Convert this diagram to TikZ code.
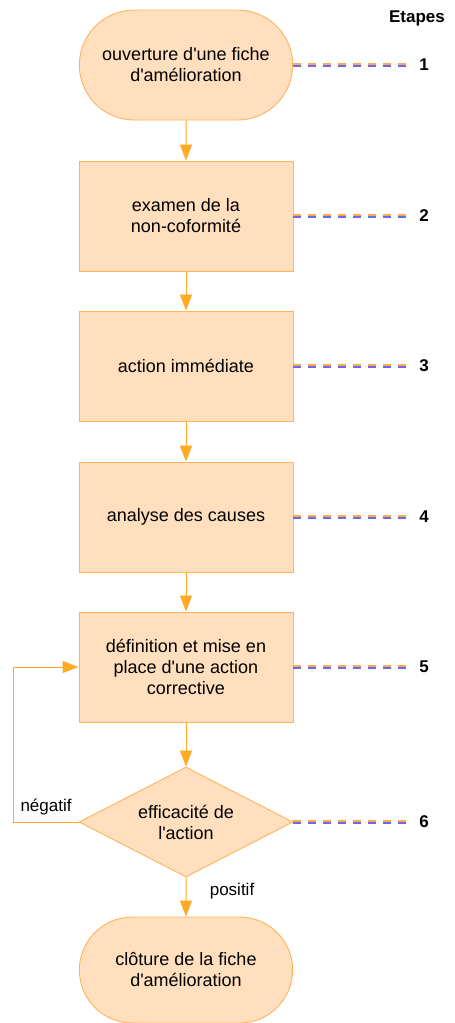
\documentclass[tikz,border=0pt]{standalone}
\usepackage{fontspec}
\setmainfont[Ligatures=TeXOff]{Liberation Sans}
\usetikzlibrary{shapes.misc,shapes.geometric,arrows.meta}

\definecolor{peach}{HTML}{FFDFBE}
\definecolor{boxline}{HTML}{FFB35C}
\definecolor{flowline}{HTML}{FFAA22}
\definecolor{linkblue}{HTML}{6A6AF0}
\definecolor{linkorange}{HTML}{FFA850}

\tikzset{
  stepbox/.style={rectangle, draw=boxline, fill=peach, line width=0.9pt,
    minimum width=214pt, minimum height=110pt, align=center,
    font=\fontsize{18}{21}\selectfont},
  endbox/.style={stepbox, rounded rectangle, minimum width=220pt},
  testbox/.style={stepbox, diamond, shape aspect=2, inner sep=0pt},
  stepnum/.style={font=\fontsize{17}{20}\selectfont\bfseries, inner sep=6pt},
  flow/.style={draw=flowline, line width=1pt, -{Triangle[width=12pt,length=16pt]}},
  linkb/.style={linkblue, line width=2pt, dash pattern=on 8pt off 7pt},
  linko/.style={linkorange, line width=1.4pt, dash pattern=on 8pt off 7pt}
}

\begin{document}
\begin{tikzpicture}[x=1pt,y=-1pt]
\useasboundingbox (0,0) rectangle (455,1023);

% Draw the steps of the procedure
\node[endbox] (open) at (186,65) {ouverture d'une fiche\\d'amélioration};
\node[stepbox] (exam) at (186,216) {examen de la\\non-coformité};
\node[stepbox] (now) at (186,366) {action immédiate};
\node[stepbox] (cause) at (186,517) {analyse des causes};
\node[stepbox] (fix) at (186,667) {définition et mise en\\place d'une action\\corrective};
\node[testbox] (check) at (186,822) {efficacité de\\l'action};
\node[endbox, minimum height=106pt] (close) at (186,970) {clôture de la fiche\\d'amélioration};

% Draw the flow between the steps
\draw[flow] (open) -- (exam);
\draw[flow] (exam) -- (now);
\draw[flow] (now) -- (cause);
\draw[flow] (cause) -- (fix);
\draw[flow] (fix) -- (check);
\draw[flow] (check) -- node[pos=0.35,right=20pt] {\fontsize{17}{20}\selectfont positif} (close);

% Draw the loop back when the action fails
\draw[flow] (check.west) -- node[above=3pt] {\fontsize{17}{20}\selectfont négatif} ++(-65,0) |- (fix.west);

% Label the step numbers
\node[stepnum] at (417,18) {Etapes};
\node[stepnum] (n1) at (424,65) {1};
\node[stepnum] (n2) at (424,216) {2};
\node[stepnum] (n3) at (424,366) {3};
\node[stepnum] (n4) at (424,517) {4};
\node[stepnum] (n5) at (424,667) {5};
\node[stepnum] (n6) at (424,822) {6};

% Draw the dashed links to the numbers
\foreach \s/\n in {open/n1,exam/n2,now/n3,cause/n4,fix/n5,check/n6} {
  \draw[linko] ([yshift=1.1pt]\s.east) -- ([yshift=1.1pt]\n.west);
  \draw[linkb] ([yshift=-0.6pt]\s.east) -- ([yshift=-0.6pt]\n.west);
}

\end{tikzpicture}
\end{document}
